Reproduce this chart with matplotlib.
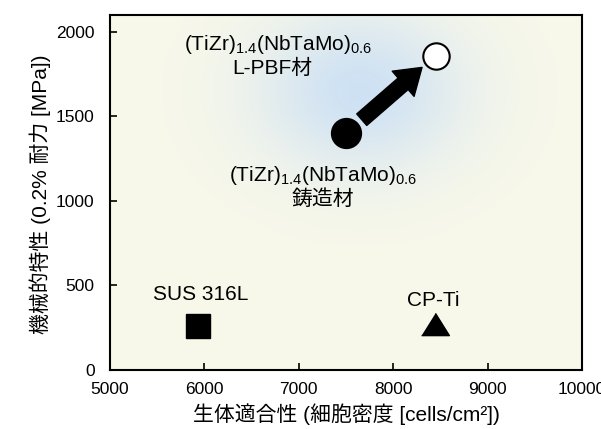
import numpy as np
import matplotlib
matplotlib.use('Agg')
import matplotlib.pyplot as plt

plt.rcParams['font.family'] = ['Liberation Sans', 'Noto Sans CJK JP', 'DejaVu Sans']
plt.rcParams['mathtext.fontset'] = 'custom'
plt.rcParams['mathtext.rm'] = 'Liberation Sans'
plt.rcParams['mathtext.it'] = 'Liberation Sans:italic'
plt.rcParams['mathtext.default'] = 'regular'

# data
materials = ['SUS 316L', 'CP-Ti', 'cast', 'L-PBF']
cell_density = [5930, 8440, 7500, 8450]   # cells/cm2
strength = [260, 272, 1400, 1860]          # MPa
hea_label = '(TiZr)$_{1.4}$(NbTaMo)$_{0.6}$'

fig = plt.figure(figsize=(6.01, 4.29), dpi=100)
ax = fig.add_axes([110 / 601, 1 - 370 / 429, 472 / 601, 355 / 429])
ax.set_facecolor('#f8f8ea')

# soft blue glow behind the HEA points
gx = np.linspace(5000, 10000, 300)
gy = np.linspace(0, 2100, 300)
GX, GY = np.meshgrid(gx, gy)
g = np.exp(-(((GX - 7650) / 1150) ** 2 + ((GY - 1650) / 500) ** 2) * 1.1)
rgba = np.zeros(GX.shape + (4,))
rgba[..., 0] = 0.80
rgba[..., 1] = 0.88
rgba[..., 2] = 0.96
rgba[..., 3] = 0.95 * g
ax.imshow(rgba, extent=[5000, 10000, 0, 2100], origin='lower', aspect='auto', zorder=0)

tri = [(-1, -0.8), (1, -0.8), (0, 0.8)]
ax.plot(cell_density[0], strength[0], 's', ms=17, color='black', zorder=3)
ax.plot(cell_density[1], strength[1], marker=tri, ms=20, color='black', ls='none', zorder=3)
ax.plot(cell_density[2], strength[2], 'o', ms=21.5, color='black', zorder=3)
ax.plot(cell_density[3], strength[3], 'o', ms=19, mfc='white', mec='black', mew=1.5, zorder=3)

ax.annotate('', xy=(cell_density[3], strength[3]), xytext=(cell_density[2], strength[2]),
            arrowprops=dict(arrowstyle='simple,head_length=18,head_width=24,tail_width=11',
                            mutation_scale=1, color='black', shrinkA=15, shrinkB=13), zorder=2)

fs = 15
ax.text(5965, 444, 'SUS 316L', fontsize=fs, ha='center', va='center')
ax.text(8420, 414, 'CP-Ti', fontsize=fs, ha='center', va='center')
ax.text(6775, 1925, hea_label, fontsize=fs, ha='center', va='center')
ax.text(6720, 1787, 'L-PBF材', fontsize=fs, ha='center', va='center')
ax.text(7260, 1150, hea_label, fontsize=fs, ha='center', va='center')
ax.text(7260, 1012, '鋳造材', fontsize=fs, ha='center', va='center')

ax.set_xlim(5000, 10000)
ax.set_ylim(0, 2100)
ax.set_xticks([5000, 6000, 7000, 8000, 9000, 10000])
ax.set_yticks([0, 500, 1000, 1500, 2000])
ax.tick_params(direction='in', labelsize=12.5, length=5, width=1.2)
ax.tick_params(axis='x', pad=9)
ax.tick_params(axis='y', pad=11)
for s in ax.spines.values():
    s.set_linewidth(1.5)

ax.set_xlabel('生体適合性 (細胞密度 [cells/cm²])', fontsize=15)
ax.set_ylabel('機械的特性 (0.2% 耐力 [MPa])', fontsize=15)
ax.xaxis.set_label_coords(0.5, -0.095)
ax.yaxis.set_label_coords(-0.125, 0.496)

fig.savefig('out.png', dpi=100)
